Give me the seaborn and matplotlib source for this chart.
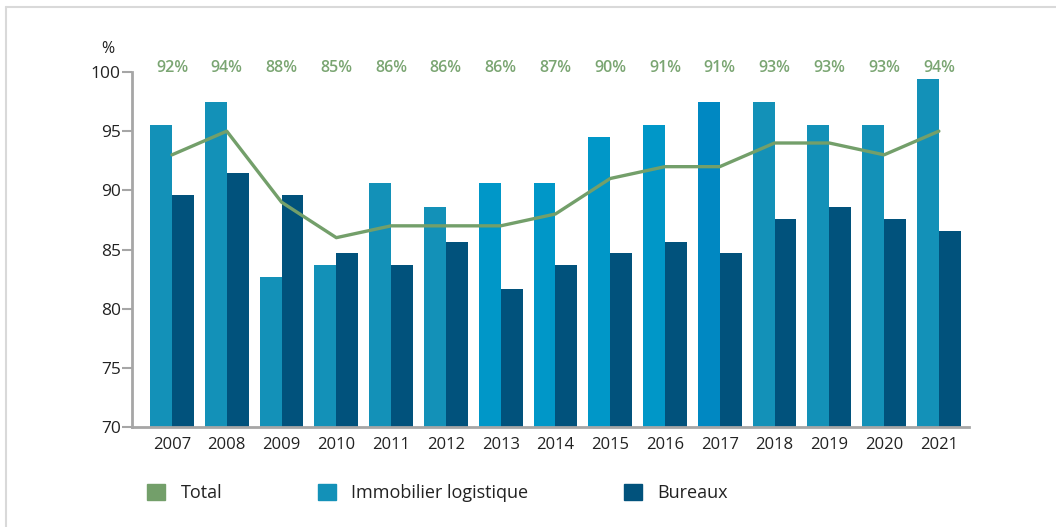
import numpy as np
import pandas as pd
import seaborn as sns
import matplotlib
matplotlib.use("Agg")
import matplotlib.pyplot as plt
from matplotlib.patches import Patch
from matplotlib.lines import Line2D

years = ["2007", "2008", "2009", "2010", "2011", "2012", "2013", "2014",
         "2015", "2016", "2017", "2018", "2019", "2020", "2021"]
logistique = [95.5, 97.5, 82.7, 83.7, 90.6, 88.6, 90.6, 90.6,
              94.5, 95.5, 97.5, 97.5, 95.5, 95.5, 99.4]
bureaux = [89.6, 91.5, 89.6, 84.7, 83.7, 85.6, 81.7, 83.7,
           84.7, 85.6, 84.7, 87.6, 88.6, 87.6, 86.6]
total = [93, 95, 89, 86, 87, 87, 87, 88, 91, 92, 92, 94, 94, 93, 95]
total_labels = ["92%", "94%", "88%", "85%", "86%", "86%", "86%", "87%",
                "90%", "91%", "91%", "93%", "93%", "93%", "94%"]
series_names = ["Immobilier logistique", "Bureaux"]
yticks = [70, 75, 80, 85, 90, 95, 100]

# styles
c_log = "#1391b8"
c_log_alt = {"2013": "#0097c8", "2014": "#0097c8", "2015": "#0097c8",
             "2016": "#0097c8", "2017": "#0088c2"}
c_bur = "#01527c"
c_tot = "#739f6a"
c_lab = "#7aa572"
c_axis = "#a6a6a6"
c_text = "#222222"

sns.set_theme(style="white")
plt.rcParams["font.family"] = ["Open Sans", "DejaVu Sans"]

df = pd.DataFrame({
    "year": years * 2,
    "value": logistique + bureaux,
    "serie": [series_names[0]] * len(years) + [series_names[1]] * len(years),
})

fig = plt.figure(figsize=(10.56, 5.27), dpi=100)
W, H = 1056, 527
AX_L, AX_R = 132, 969
ax = fig.add_axes([AX_L / W, 1 - 427 / H, (AX_R - AX_L) / W, (427 - 72) / H])

sns.barplot(data=df, x="year", y="value", hue="serie", order=years,
            hue_order=series_names, palette=[c_log, c_bur], width=0.8,
            saturation=1, ax=ax, legend=False, linewidth=0)
for patch, yr in zip(ax.containers[0], years):
    patch.set_facecolor(c_log_alt.get(yr, c_log))

sns.lineplot(x=np.arange(len(years)), y=total, color=c_tot, linewidth=2.4,
             ax=ax, legend=False)

for i, lab in enumerate(total_labels):
    ax.text(i, 100.35, lab, ha="center", va="center", color=c_lab,
            fontsize=11.5, fontweight="semibold", clip_on=False)

ax.set_ylim(70, 100)
ax.set_xlim(-0.73, 14.55)
ax.set_yticks(yticks)
ax.set_yticklabels([str(v) for v in yticks], fontsize=12.5, color=c_text)
ax.set_xticks(range(len(years)))
ax.set_xticklabels(years, fontsize=12, color=c_text)
ax.set_xlabel("")
ax.set_ylabel("")
ax.tick_params(axis="y", length=7, width=1.5, color=c_axis, pad=1, left=True)
ax.tick_params(axis="x", length=0, pad=7)
for s in ["top", "right"]:
    ax.spines[s].set_visible(False)
for s in ["left", "bottom"]:
    ax.spines[s].set_color(c_axis)
    ax.spines[s].set_linewidth(2)
ax.grid(False)
ax.text(-24 / (AX_R - AX_L), 1.065, "%", transform=ax.transAxes,
        ha="center", va="center", fontsize=11.5, color=c_text)

handles = [Patch(facecolor=c_tot, edgecolor=c_tot),
           Patch(facecolor=c_log, edgecolor=c_log),
           Patch(facecolor=c_bur, edgecolor=c_bur)]
fig.legend(handles, ["Total", "Immobilier logistique", "Bureaux"],
           loc="center left", bbox_to_anchor=(147 / W, 1 - 493 / H),
           ncol=3, frameon=False, fontsize=13, handlelength=1.0,
           handleheight=1.0, handletextpad=0.85, columnspacing=5.3,
           borderpad=0, borderaxespad=0, labelcolor=c_text)

fig.add_artist(Line2D([6 / W, 1], [1 - 7 / H, 1 - 7 / H], color="#d9d9d9",
                      linewidth=1.5, transform=fig.transFigure))
fig.add_artist(Line2D([6 / W, 6 / W], [0, 1 - 7 / H], color="#d9d9d9",
                      linewidth=1.5, transform=fig.transFigure))

fig.savefig("out.png", dpi=100, facecolor="white")
